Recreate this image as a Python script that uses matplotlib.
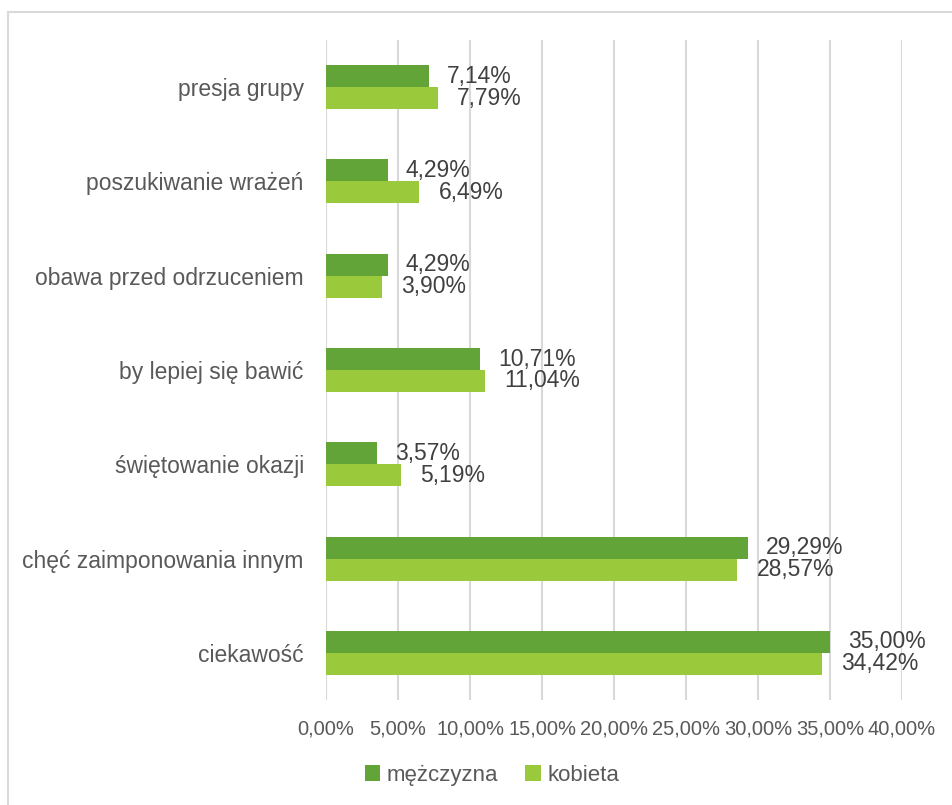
import matplotlib
matplotlib.use("Agg")
import matplotlib.pyplot as plt
import numpy as np
from matplotlib.patches import Rectangle

categories = ["presja grupy", "poszukiwanie wrażeń", "obawa przed odrzuceniem",
              "by lepiej się bawić", "świętowanie okazji", "chęć zaimponowania innym",
              "ciekawość"]
men = [7.14, 4.29, 4.29, 10.71, 3.57, 29.29, 35.00]
women = [7.79, 6.49, 3.90, 11.04, 5.19, 28.57, 34.42]
series_names = ["mężczyzna", "kobieta"]
xticks = [0, 5, 10, 15, 20, 25, 30, 35, 40]

plt.rcParams['font.family'] = ['Liberation Sans', 'DejaVu Sans']
TXT = "#595959"
LBL = "#404040"
C_MEN = "#62A438"
C_WOM = "#9ACA3C"

W, H = 953, 805
fig = plt.figure(figsize=(W / 100, H / 100), dpi=100)
fig.patch.set_facecolor("white")
fig.patches.append(Rectangle((8 / W, -0.1), 1.2, 1 - 12 / H + 0.1, transform=fig.transFigure,
                             fill=False, edgecolor="#D9D9D9", linewidth=1.5))

ax = fig.add_axes([326 / W, (H - 700) / H, (902 - 326) / W, (700 - 40) / H])
y = np.arange(len(categories))
h = 0.233
b1 = ax.barh(y - h / 2, men, height=h, color=C_MEN, label=series_names[0], zorder=3)
b2 = ax.barh(y + h / 2, women, height=h, color=C_WOM, label=series_names[1], zorder=3)

def fmt(v):
    return f"{v:.2f}".replace(".", ",") + "%"

for yy, v in zip(y - h / 2, men):
    ax.annotate(fmt(v), (v, yy), xytext=(18, 0), textcoords="offset pixels",
                va="center", ha="left", fontsize=16.5, color=LBL)
for yy, v in zip(y + h / 2, women):
    ax.annotate(fmt(v), (v, yy), xytext=(19, 0), textcoords="offset pixels",
                va="center", ha="left", fontsize=16.5, color=LBL)

ax.set_xlim(0, 40)
ax.set_ylim(len(categories) - 0.5, -0.5)
ax.set_xticks(xticks)
ax.set_xticklabels([fmt(v) for v in xticks], fontsize=14.5, color=TXT)
ax.set_yticks(y)
ax.set_yticklabels(categories, fontsize=16.5, color=TXT)
ax.tick_params(axis="both", length=0)
ax.tick_params(axis="y", pad=16)
ax.tick_params(axis="x", pad=14)
ax.grid(axis="x", color="#D9D9D9", linewidth=1.5, zorder=0)
ax.set_axisbelow(True)
for s in ax.spines.values():
    s.set_visible(False)

fig.legend(handles=[b1, b2], labels=series_names, loc="center",
           bbox_to_anchor=(492 / W, 1 - 775 / H), ncol=2, frameon=False,
           fontsize=16, labelcolor=TXT, handlelength=0.7, handleheight=0.7,
           handletextpad=0.3, columnspacing=1.2)

fig.savefig("out.png", dpi=100, facecolor="white")
